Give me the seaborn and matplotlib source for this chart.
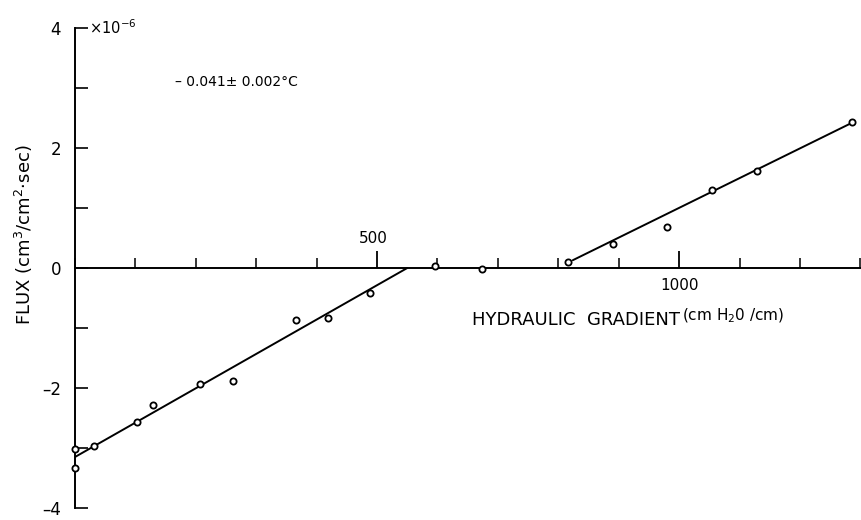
import matplotlib
matplotlib.use("Agg")
import matplotlib.pyplot as plt
import seaborn as sns
import pandas as pd

# Measured flux vs hydraulic gradient
gradient = [0, 0, 31, 103, 129, 207, 262, 366, 419, 488, 596, 674,
            816, 891, 980, 1055, 1129, 1286]
flux = [-3.01, -3.34, -2.96, -2.57, -2.29, -1.93, -1.88, -0.86, -0.84, -0.41, 0.03, -0.02,
        0.10, 0.40, 0.69, 1.30, 1.61, 2.44]

# Fitted lines (two branches)
fit_low_x = [0, 550]
fit_low_y = [-3.15, 0.0]
fit_high_x = [824, 1286]
fit_high_y = [0.13, 2.42]

x_minor_ticks = list(range(0, 1301, 100))
x_major_ticks = [500, 1000]
y_ticks = [-4, -3, -2, -1, 0, 1, 2, 3, 4]
y_tick_labels = {4: "4", 2: "2", 0: "0", -2: "\u20132", -4: "\u20134"}

annotation = "\u2013 0.041\u00b1 0.002\u00b0C"

sns.set_style("white")
plt.rcParams["font.family"] = ["DejaVu Sans"]
plt.rcParams["text.color"] = "black"
plt.rcParams["xtick.color"] = "black"
plt.rcParams["ytick.color"] = "black"
plt.rcParams["axes.labelcolor"] = "black"

fig = plt.figure(figsize=(8.61, 5.20), dpi=100)
ax = fig.add_axes([75 / 861, 12 / 520, 786 / 861, 480 / 520])

pts = pd.DataFrame({"gradient": gradient, "flux": flux})
sns.scatterplot(data=pts, x="gradient", y="flux", ax=ax, marker="o", s=20,
                facecolor="white", edgecolor="black", linewidth=1.3, zorder=3,
                clip_on=False)
sns.lineplot(x=fit_low_x, y=fit_low_y, ax=ax, color="black", lw=1.4, zorder=2)
sns.lineplot(x=fit_high_x, y=fit_high_y, ax=ax, color="black", lw=1.4, zorder=2)

ax.set_xlim(0, 1301)
ax.set_ylim(-4, 4)

for side in ("top", "right"):
    ax.spines[side].set_visible(False)
ax.spines["bottom"].set_position(("data", 0))
ax.spines["bottom"].set_linewidth(1.4)
ax.spines["left"].set_linewidth(1.4)
ax.spines["bottom"].set_color("black")
ax.spines["left"].set_color("black")

# x ticks drawn upward from the zero line
ax.set_xticks(x_major_ticks)
ax.set_xticks([t for t in x_minor_ticks if t not in x_major_ticks], minor=True)
ax.tick_params(axis="x", which="major", bottom=True, direction="in", length=12,
               width=1.3, labelbottom=False, color="black")
ax.tick_params(axis="x", which="minor", bottom=True, direction="in", length=7,
               width=1.1, color="black")

ax.set_yticks(y_ticks)
ax.set_yticklabels([y_tick_labels.get(t, "") for t in y_ticks])
ax.tick_params(axis="y", left=True, direction="in", length=9, width=1.2, pad=10,
               labelsize=12, color="black", labelcolor="black")

ax.set_xlabel("")
ax.set_ylabel("")

# x tick labels: 500 above the axis, 1000 below
ax.text(x_major_ticks[0] - 6, 0.36, str(x_major_ticks[0]), ha="center", va="bottom",
        fontsize=11)
ax.text(x_major_ticks[1], -0.16, str(x_major_ticks[1]), ha="center", va="top",
        fontsize=11)

# exponent beside the top tick
ax.text(24, 4.0, r"$\times$10$^{-6}$", ha="left", va="center", fontsize=10.5)

ax.text(165, 3.1, annotation, ha="left", va="center", fontsize=10)

# axis titles
ax.text(1002, -0.86, "HYDRAULIC  GRADIENT", ha="right", va="center", fontsize=13)
ax.text(1004, -0.80, r"(cm H$_2$0 /cm)", ha="left", va="center", fontsize=11)

fig.text(24 / 861, 1 - 235 / 520, r"FLUX (cm$^3$/cm$^2$$\cdot$sec)", rotation=90,
         ha="center", va="center", fontsize=13)

fig.savefig("out.png", dpi=100, facecolor="white")
